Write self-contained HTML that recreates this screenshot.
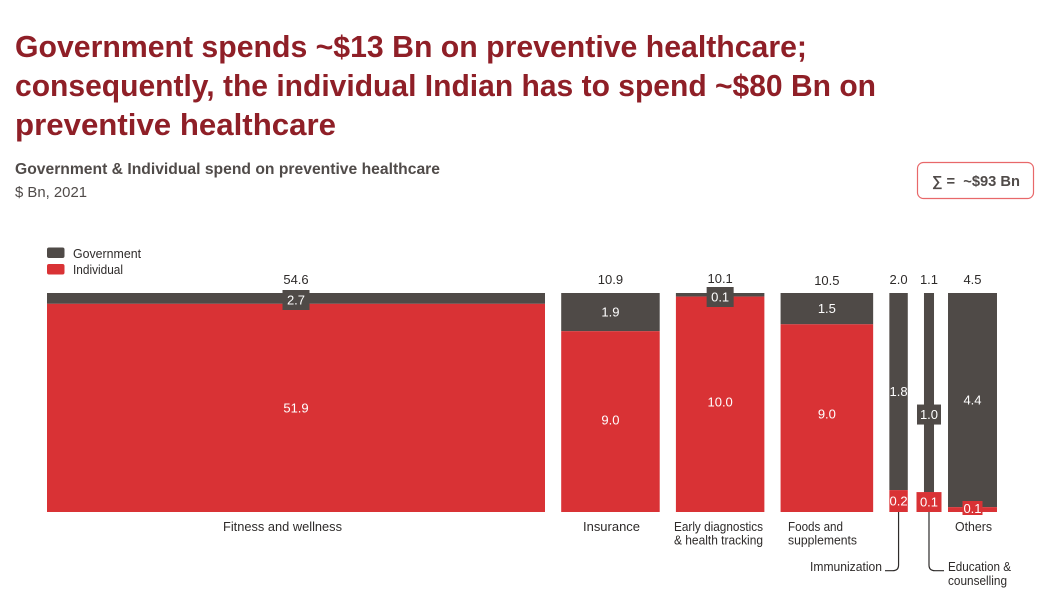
<!DOCTYPE html>
<html lang="en">
<head>
<meta charset="utf-8">
<title>Government and individual spend on preventive healthcare</title>
<style>
html,body{margin:0;padding:0;background:#fff;width:1052px;height:600px;overflow:hidden}
svg{display:block;font-family:"Liberation Sans",sans-serif}
.ttl{font-size:31px;font-weight:700;fill:#8f1f27}
.lbl{font-size:12.5px;fill:#2e2b2a}
.val{font-size:13px;fill:#fff;text-anchor:middle}
.tot{font-size:13px;fill:#2e2b2a;text-anchor:middle}
</style>
</head>
<body>
<svg id="chart" width="1052" height="600" viewBox="0 0 1052 600">
  <g>
    <text class="ttl" x="15" y="57" textLength="792" lengthAdjust="spacingAndGlyphs">Government spends ~$13 Bn on preventive healthcare;</text>
    <text class="ttl" x="15" y="96" textLength="861" lengthAdjust="spacingAndGlyphs">consequently, the individual Indian has to spend ~$80 Bn on</text>
    <text class="ttl" x="15" y="135" textLength="321" lengthAdjust="spacingAndGlyphs">preventive healthcare</text>
  </g>
  <text x="15" y="174" font-size="15.5" font-weight="700" fill="#504b49" textLength="425" lengthAdjust="spacingAndGlyphs">Government &amp; Individual spend on preventive healthcare</text>
  <text x="15" y="197" font-size="15" fill="#504b49" textLength="72" lengthAdjust="spacingAndGlyphs">$ Bn, 2021</text>

  <g>
    <rect x="917.5" y="162.5" width="116" height="36" rx="6" fill="#fff" stroke="#e8686a" stroke-width="1.2"></rect>
    <text x="932" y="186" font-size="14.5" font-weight="700" fill="#504b49" textLength="88" lengthAdjust="spacingAndGlyphs" xml:space="preserve">∑ =  ~$93 Bn</text>
  </g>

  <g>
    <rect x="47" y="247.5" width="17.5" height="10.5" rx="2" fill="#4f4a47"></rect>
    <text class="lbl" x="73" y="258" font-size="12" textLength="68" lengthAdjust="spacingAndGlyphs">Government</text>
    <rect x="47" y="264" width="17.5" height="10.5" rx="2" fill="#d93235"></rect>
    <text class="lbl" x="73" y="274" font-size="12" textLength="50" lengthAdjust="spacingAndGlyphs">Individual</text>
  </g>

  <g id="bars"></g>
  <g id="labels"></g>
  <g id="leaders"></g>
</svg>

<script>
const categories = ['Fitness and wellness', 'Insurance', 'Early diagnostics & health tracking', 'Foods and supplements', 'Immunization', 'Education & counselling', 'Others'];
const governmentSpend = [2.7, 1.9, 0.1, 1.5, 1.8, 1.0, 4.4];
const individualSpend = [51.9, 9.0, 10.0, 9.0, 0.2, 0.1, 0.1];
const totalLabels = ['54.6', '10.9', '10.1', '10.5', '2.0', '1.1', '4.5'];
const columnWidthValues = [54.6, 10.8, 9.7, 10.15, 2.02, 1.1, 5.37];

const SVGNS = 'http://www.w3.org/2000/svg';
const TOP = 293, BOTTOM = 512, LEFT = 47, GAP = 16.2;
const widthScale = v => v * 498 / 54.6;
const shareScale = s => s * (BOTTOM - TOP);
const GOV = '#4f4a47', IND = '#d93235';
const MIN_SEGMENT = 3.6;

function svgEl(tag, attrs, parent) {
  const el = document.createElementNS(SVGNS, tag);
  for (const k in attrs) el.setAttribute(k, attrs[k]);
  parent.appendChild(el);
  return el;
}
function slug(s) {
  return s.toLowerCase().replace(/[^a-z0-9]+/g, '-').replace(/^-|-$/g, '');
}

const barsG = document.getElementById('bars');
const labelsG = document.getElementById('labels');
const leadersG = document.getElementById('leaders');
let cursor = LEFT;

categories.forEach((cat, i) => {
  const name = slug(cat);
  const w = widthScale(columnWidthValues[i]);
  const cx = cursor + w / 2;
  const sum = governmentSpend[i] + individualSpend[i];
  const govH = Math.max(shareScale(governmentSpend[i] / sum), MIN_SEGMENT);
  const split = TOP + govH;

  const group = svgEl('g', {}, barsG);
  
  

  const govRect = svgEl('rect', { x: cursor, y: TOP, width: w, height: govH, fill: GOV }, group);
  
  

  const indRect = svgEl('rect', { x: cursor, y: split, width: w, height: BOTTOM - split, fill: IND }, group);
  
  

  const totalNudge = cat.startsWith('Early') ? -1 : cat.startsWith('Foods') ? 1 : 0;
  const total = svgEl('text', { class: 'tot', x: cx, y: 284 + totalNudge }, group);
  total.textContent = totalLabels[i];
  
  

  // Government value label: boxed when the segment is too thin to hold it
  const govThin = govH < 24;
  const govNudge = cat === 'Education & counselling' ? 22 : 0;
  let govY = TOP + govH / 2 + govNudge;
  if (govThin) {
    govY = govH > 8 ? TOP + 7 : TOP + 4;
    const box = svgEl('rect', { x: cx - 13.5, y: govY - 10, width: 27, height: 20, fill: GOV }, group);
    
    
  } else if (w < 15) {
    const box = svgEl('rect', { x: cx - 12, y: govY - 10, width: 24, height: 20, fill: GOV }, group);
    
    
  }
  const govVal = svgEl('text', { class: 'val', x: cx, y: govY + 4.5 }, group);
  govVal.textContent = governmentSpend[i].toFixed(1);
  
  

  // Individual value label
  const indH = BOTTOM - split;
  const indNudge = cat.startsWith('Foods') ? -4 : cat.startsWith('Early') ? -2.5 : cat === 'Insurance' ? -1.5 : 0;
  let indY = split + indH / 2 + indNudge;
  if (indH < 10) {
    indY = BOTTOM - 3.5;
    const box = svgEl('rect', { x: cx - 10, y: BOTTOM - 11, width: 20, height: 14, fill: IND }, group);
    
    
  } else if (w < 15) {
    const box = svgEl('rect', { x: cx - 12.5, y: split, width: 25, height: indH, fill: IND }, group);
    
    
  }
  const indVal = svgEl('text', { class: 'val', x: cx, y: indY + 4.5 }, group);
  indVal.textContent = individualSpend[i].toFixed(1);
  
  

  // Leader lines for narrow columns
  if (cat === 'Immunization') {
    const p = svgEl('path', { d: `M${cx} ${BOTTOM}V565q0 5.7 -6 5.7H885`, fill: 'none', stroke: '#2e2b2a', 'stroke-width': 1.2 }, leadersG);
    
    
  }
  if (cat === 'Education & counselling') {
    const p = svgEl('path', { d: `M${cx} ${BOTTOM}V565q0 5.7 6 5.7H944`, fill: 'none', stroke: '#2e2b2a', 'stroke-width': 1.2 }, leadersG);
    
    
  }
  cursor += w + (cat === 'Education & counselling' ? 14 : GAP);
});

// Category labels: line breaks and placement are layout, not data
const placements = [
  { lines: ['Fitness and wellness'], x: 223, y: 531, lens: [119] },
  { lines: ['Insurance'], x: 583, y: 531, lens: [57] },
  { lines: ['Early diagnostics', '& health tracking'], x: 674, y: 531, lens: [89, 89] },
  { lines: ['Foods and', 'supplements'], x: 788, y: 531, lens: [55, 69] },
  { lines: ['Immunization'], x: 810, y: 571, lens: [72] },
  { lines: ['Education &', 'counselling'], x: 948, y: 571, lens: [63, 59] },
  { lines: ['Others'], x: 955, y: 531, lens: [37] }
];
placements.forEach((pl, i) => {
  const name = slug(categories[i]);
  const t = svgEl('text', { class: 'lbl' }, labelsG);
  
  
  pl.lines.forEach((line, j) => {
    const span = svgEl('tspan', { x: pl.x, y: pl.y + j * (i === 5 ? 14 : 13.5), textLength: pl.lens[j], lengthAdjust: 'spacingAndGlyphs' }, t);
    span.textContent = line;
  });
});
</script>
</body>
</html>
